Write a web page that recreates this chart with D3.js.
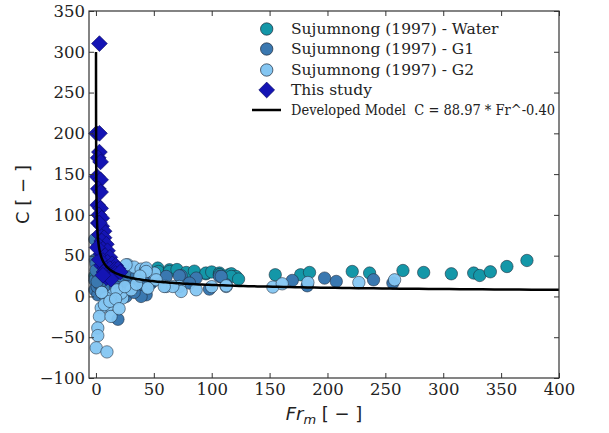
<!DOCTYPE html>
<html><head><meta charset="utf-8">
<script src="https://cdn.jsdelivr.net/npm/d3@7"></script>
<style>body{margin:0;background:#fff}svg{display:block}</style>
</head><body>
<script>
// ---- data ----
const xTicks = [0,50,100,150,200,250,300,350,400];
const yTicks = [-100,-50,0,50,100,150,200,250,300,350];
const seriesNames = ["Sujumnong (1997) - Water","Sujumnong (1997) - G1","Sujumnong (1997) - G2","This study"];
const modelLabel = "Developed Model\u00a0 C = 88.97 * Fr^-0.40";
const modelA = 88.97, modelB = -0.40;

const waterFr = [1,-1,3,5,2,0,8,12,16,20,25,40,53.4,54,63.5,63.5,70,78,85,95,95,100,106.7,106.7,115,117,121,106.7,116.9,123.2,154.9,176.8,184.5,221.4,236.4,265.2,283.1,307,326.3,331.5,340.7,355,372.3];
const waterC  = [33,25,30,28,36,27,30,33,35,30,32,30,34.8,30.6,32.7,30.6,33,29.4,31,27.8,28.7,30,28.7,26.6,26.6,27.8,24.5,26.6,24.5,21.3,26.6,26.6,29.4,30.6,28.7,31.8,29.4,27.8,28.7,25.7,30.2,36.7,44.1];

const g1Fr = [-1,-0.5,0,-1,6,-1,1.6,8.8,19,24.6,36,43.4,43.4,39,26,19,60.7,73.6,86.6,106.7,80.8,98,47.7,72,112.5,3,10,15,30,50,1,2,4,6,8,12,14,17,21,28,33,3,5,10,16,22,27,0,1,11,35,40,108.2,169.6,182.5,197.5,207.6,239.8,256.5];
const g1C  = [70,45,40,20,14,8,2,4.5,20,18.4,12.2,8.2,2,0,0,-28,24.5,25.3,22.5,24.5,16.4,9,16.4,25.3,14.3,25,20,10,22,20,12,28,22,26,18,14,22,12,8,15,5,15,5,-3,3,25,27,32,18,27,25,20,24.5,19.6,13.1,22.5,18.4,20.4,16.4];

const g2Fr = [27.5,33,39,43,50.6,26,43.4,60.7,72,86.6,112.5,52,14.5,23,8.8,10.2,4.5,3,13,1.6,1.6,0.2,9.5,21.8,30.4,44.8,7.3,73.6,66.4,59,43.4,100,18,5,12,17,25,35,38,20,112.5,152.8,160.9,183.1,227.1,258];
const g2C  = [38.8,36,33.5,32.7,28.6,38.8,34.8,12.2,12.2,8.2,12.2,20.4,2,-2,-2,-12,-14,-24.5,-24.5,-38.7,-48,-63,-68,4.1,8.2,10.3,-10,6.1,12.2,12.2,30.6,12,8,5,-6,-3,12,15,25,-15,13.1,11.5,15.5,17.1,17.1,20.4];

const studyFr = [3,0.5,3,3,2,4,1,4,2,4,1.5,4,2.5,5,2,5,7,3,7,5,9,3,6,10,4.5,8,12,6,10,14,17,5,8,12,16,19,7,10,13,17,21,9,13,6,3,3,1];
const studyC  = [310,200,200,177,170,165,147,143,132,128,112,108,100,96,90,86,80,76,72,68,64,62,58,56,52,50,48,44,42,40,38,38,35,34,33,34,30,28,26,28,30,23,21,26,45,90,60];

const colors = ["#1497a8","#3a78b0","#84c6f2","#1414b4"];

// ---- chart ----
const W=609,H=433;
const m={l:89,r:559,t:11,b:378};
const svg=d3.select("body").append("svg").attr("width",W).attr("height",H);
const x=d3.scaleLinear().domain([-6,400]).range([m.l,m.r]);
const y=d3.scaleLinear().domain([-100,350]).range([m.b,m.t]);

const serif="'DejaVu Serif', serif";
const sans="'DejaVu Sans', sans-serif";

const plot=svg.append("g");
function circles(fr,c,col,op){
  plot.append("g").selectAll("circle").data(fr.map((f,i)=>[f,c[i]])).join("circle")
    .attr("cx",d=>x(d[0])).attr("cy",d=>y(d[1])).attr("r",6.2)
    .attr("fill",col).attr("fill-opacity",op).attr("stroke","#1f2a3a").attr("stroke-width",0.7).attr("stroke-opacity",0.8);
}
circles(waterFr,waterC,colors[0],1);
circles(g1Fr,g1C,colors[1],1);
circles(g2Fr,g2C,colors[2],0.95);

const diamondPath=d3.symbol().type(d3.symbolSquare).size(125);
plot.append("g").selectAll("path").data(studyFr.map((f,i)=>[f,studyC[i]])).join("path")
  .attr("transform",d=>`translate(${x(d[0])},${y(d[1])}) rotate(45)`)
  .attr("d",diamondPath)
  .attr("fill",colors[3]).attr("stroke","#0a0a60").attr("stroke-width",0.6);

// model curve
const frs=d3.range(0,301).map(i=>0.048*Math.pow(400/0.048,i/300));
plot.append("path").datum(frs).attr("fill","none").attr("stroke","#000").attr("stroke-width",2.5)
  .attr("d",d3.line().x(f=>x(f)).y(f=>y(modelA*Math.pow(f,modelB))));

// axes
const tickLen=5;
const gx=svg.append("g").attr("transform",`translate(0,${m.b})`)
  .call(d3.axisBottom(x).tickValues(xTicks).tickSize(-tickLen).tickPadding(5).tickFormat(d3.format("d")));
const gy=svg.append("g").attr("transform",`translate(${m.l},0)`)
  .call(d3.axisLeft(y).tickValues(yTicks).tickSize(-tickLen).tickPadding(4).tickFormat(d=>d<0?"\u2212"+Math.abs(d):d));
const gt=svg.append("g").attr("transform",`translate(0,${m.t})`)
  .call(d3.axisTop(x).tickValues(xTicks).tickSize(-tickLen).tickFormat(""));
const gr=svg.append("g").attr("transform",`translate(${m.r},0)`)
  .call(d3.axisRight(y).tickValues(yTicks).tickSize(-tickLen).tickFormat(""));
[gx,gy,gt,gr].forEach(g=>{
  g.select(".domain").remove();
  g.selectAll("line").attr("stroke","#333");
  g.selectAll("text").attr("font-family",serif).attr("font-size",16.5).attr("fill","#222");
});
svg.append("rect").attr("x",m.l).attr("y",m.t).attr("width",m.r-m.l).attr("height",m.b-m.t)
  .attr("fill","none").attr("stroke","#333").attr("stroke-width",1.2);

// axis labels
const xl=svg.append("text").attr("x",(m.l+m.r)/2).attr("y",420).attr("text-anchor","middle")
  .attr("font-family",sans).attr("font-size",18).attr("fill","#222");
xl.append("tspan").attr("font-style","italic").text("Fr");
xl.append("tspan").attr("font-style","italic").attr("font-size",13).attr("dy",4).text("m");
xl.append("tspan").attr("dy",-4).text(" [ \u2212 ]");
svg.append("text").attr("transform",`translate(29,${(m.t+m.b)/2}) rotate(-90)`).attr("text-anchor","middle")
  .attr("font-family",sans).attr("font-size",18).attr("fill","#222").text("C [ \u2212 ]");

// legend
const lg=svg.append("g");
const rowY=[29,49,70,90,110];
const mx=266.7, tx=291, fs=15.5;
seriesNames.forEach((n,i)=>{
  if(i<3){
    lg.append("circle").attr("cx",mx).attr("cy",rowY[i]).attr("r",6.2).attr("fill",colors[i])
      .attr("stroke","#1f2a3a").attr("stroke-width",0.7);
  } else {
    lg.append("path").attr("transform",`translate(${mx},${rowY[i]}) rotate(45)`)
      .attr("d",diamondPath).attr("fill",colors[3]).attr("stroke","#0a0a60").attr("stroke-width",0.6);
  }
  lg.append("text").attr("x",tx).attr("y",rowY[i]).attr("dy","0.35em").attr("font-family",serif).attr("font-size",fs).attr("fill","#222").text(n);
});
lg.append("line").attr("x1",252).attr("x2",281).attr("y1",rowY[4]).attr("y2",rowY[4]).attr("stroke","#000").attr("stroke-width",2.5);
lg.append("text").attr("x",tx).attr("y",rowY[4]).attr("dy","0.35em").attr("font-family",serif).attr("font-size",fs)
  .attr("textLength",264).attr("lengthAdjust","spacingAndGlyphs").attr("fill","#222").text(modelLabel);
</script>
</body></html>
